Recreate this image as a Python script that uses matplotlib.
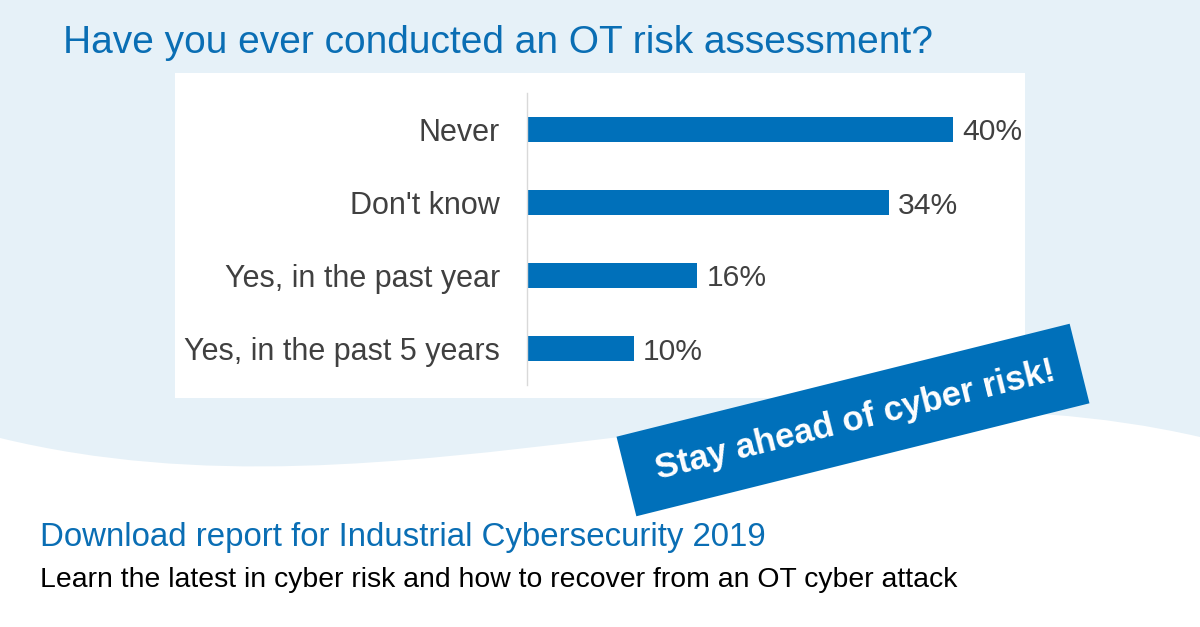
import matplotlib
matplotlib.use("Agg")
import matplotlib.pyplot as plt
from matplotlib.patches import Rectangle, Polygon, PathPatch
from matplotlib.path import Path
import numpy as np

plt.rcParams['font.family'] = ['Liberation Sans', 'DejaVu Sans']

# ---- data ----
categories = ["Never", "Don't know", "Yes, in the past year", "Yes, in the past 5 years"]
values = [40, 34, 16, 10]
value_labels = ["40%", "34%", "16%", "10%"]

title = "Have you ever conducted an OT risk assessment?"
banner = "Stay ahead of cyber risk!"
sub1 = "Download report for Industrial Cybersecurity 2019"
sub2 = "Learn the latest in cyber risk and how to recover from an OT cyber attack"

BLUE = "#0A6EB4"
BAR = "#0070BA"
BG = "#E6F1F8"
GRAY = "#404040"

W, H = 1200, 627
fig = plt.figure(figsize=(12, 6.27), dpi=100)
fig.patch.set_facecolor("white")

# background axes in pixel coords (y down)
bg = fig.add_axes([0, 0, 1, 1])
bg.set_xlim(0, W)
bg.set_ylim(H, 0)
bg.axis("off")

verts = [(0, 0), (0, 438), (400, 535), (800, 345), (1200, 437), (1200, 0), (0, 0)]
codes = [Path.MOVETO, Path.LINETO, Path.CURVE4, Path.CURVE4, Path.CURVE4, Path.LINETO, Path.CLOSEPOLY]
bg.add_patch(PathPatch(Path(verts, codes), facecolor=BG, edgecolor="none"))

# white chart panel
bg.add_patch(Rectangle((175, 73), 850, 325, facecolor="white", edgecolor="none"))

bg.text(63, 53, title, fontsize=28, color=BLUE, va="baseline", ha="left")
bg.text(40, 546, sub1, fontsize=23.8, color=BLUE, va="baseline", ha="left")
bg.text(40, 587, sub2, fontsize=20.4, color="black", va="baseline", ha="left")

# chart axes
px_per_unit = 10.65
ax_left, ax_top, ax_bottom = 527, 93, 385
xmax = 45
ax = fig.add_axes([ax_left / W, 1 - ax_bottom / H, xmax * px_per_unit / W, (ax_bottom - ax_top) / H])
ax.patch.set_alpha(0)
y = np.arange(len(categories))
ax.barh(y, values, height=0.34, color=BAR)
ax.set_xlim(0, xmax)
ax.set_ylim(len(categories) - 0.5, -0.5)
ax.set_yticks(y)
ax.set_yticklabels(categories, fontsize=22, color=GRAY)
ax.tick_params(axis="y", length=0, pad=19.5)
ax.set_xticks([])
for s in ["top", "right", "bottom"]:
    ax.spines[s].set_visible(False)
ax.spines["left"].set_color("#D9D9D9")
ax.spines["left"].set_linewidth(1)
for yi, v, lab in zip(y, values, value_labels):
    ax.annotate(lab, (v, yi), xytext=(6.5, 0), textcoords="offset points",
                va="center_baseline", ha="left", fontsize=21.6, color=GRAY)

# banner (decorative, on top)
ov = fig.add_axes([0, 0, 1, 1])
ov.set_xlim(0, W)
ov.set_ylim(H, 0)
ov.axis("off")
cx, cy, L, Hb, ang = 853, 420, 467, 82, 14
a = np.deg2rad(ang)
u = np.array([np.cos(a), -np.sin(a)])
n = np.array([np.sin(a), np.cos(a)])
c = np.array([cx, cy])
corners = [c - u * L / 2 - n * Hb / 2, c + u * L / 2 - n * Hb / 2,
           c + u * L / 2 + n * Hb / 2, c - u * L / 2 + n * Hb / 2]
ov.add_patch(Polygon(corners, closed=True, facecolor=BAR, edgecolor="none"))
ov.text(cx + 2, cy, banner, fontsize=25, fontweight="bold", color="white",
        rotation=ang, rotation_mode="anchor", ha="center", va="center")

fig.savefig("out.png", dpi=100)
